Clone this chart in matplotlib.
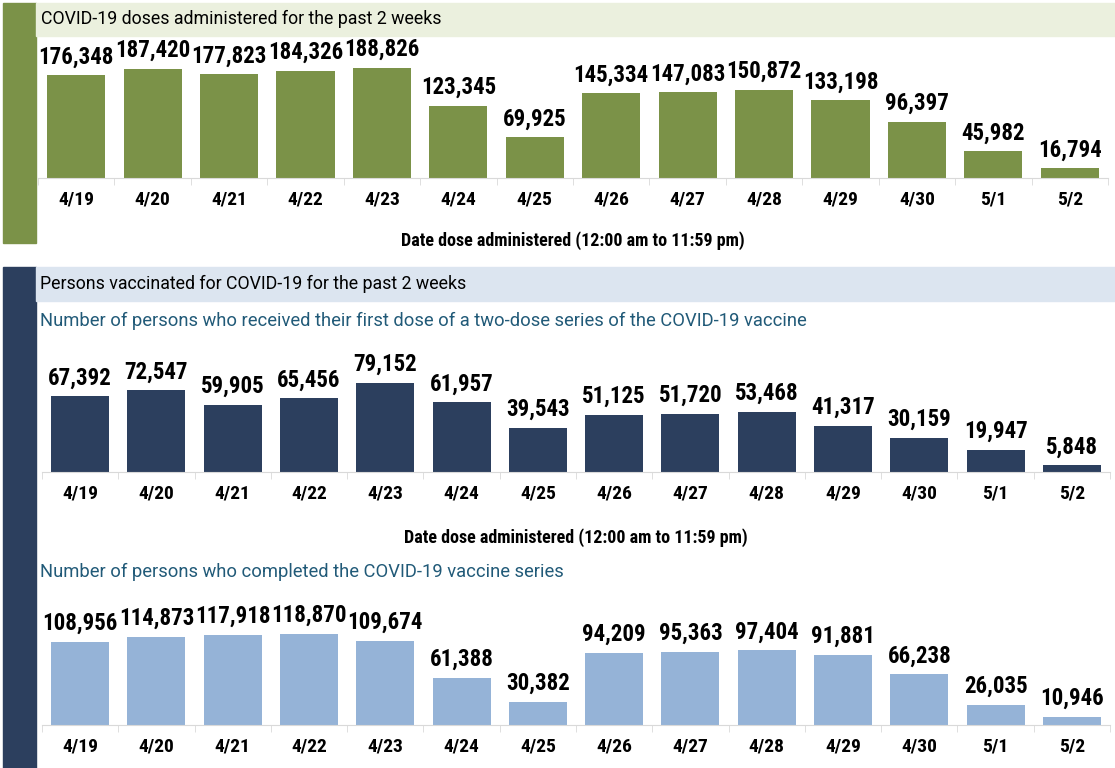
import matplotlib
matplotlib.use("Agg")
import matplotlib.pyplot as plt
from matplotlib.patches import Rectangle

dates = ["4/19", "4/20", "4/21", "4/22", "4/23", "4/24", "4/25",
         "4/26", "4/27", "4/28", "4/29", "4/30", "5/1", "5/2"]
doses = [176348, 187420, 177823, 184326, 188826, 123345, 69925,
         145334, 147083, 150872, 133198, 96397, 45982, 16794]
first_dose = [67392, 72547, 59905, 65456, 79152, 61957, 39543,
              51125, 51720, 53468, 41317, 30159, 19947, 5848]
completed = [108956, 114873, 117918, 118870, 109674, 61388, 30382,
             94209, 95363, 97404, 91881, 66238, 26035, 10946]

W, H = 1115, 768
NARROW = ["Roboto Condensed", "DejaVu Sans"]
REG = ["Roboto", "DejaVu Sans"]

fig = plt.figure(figsize=(W / 100, H / 100), dpi=100)


def fx(x):
    return x / W


def fy(y):
    return 1 - y / H


def rect(x0, y0, x1, y1, color):
    fig.patches.append(Rectangle((fx(x0), fy(y1)), fx(x1 - x0), (y1 - y0) / H,
                                 transform=fig.transFigure, color=color, zorder=0))


def panel(left, right, top, base, values, color, max_px, xlabel=None, labelpad=17):
    ax = fig.add_axes([fx(left), fy(base), fx(right - left), (base - top) / H])
    x = range(len(values))
    ax.bar(x, values, width=0.76, color=color)
    ax.set_xlim(-0.5, len(values) - 0.5)
    ax.set_ylim(0, max(values) * (base - top) / max_px)
    for i, v in enumerate(values):
        ax.annotate(f"{v:,}", (i, v), xytext=(0, 5), textcoords="offset points",
                    ha="center", va="bottom", fontsize=16.5, fontweight="bold",
                    family=NARROW)
    for s in ["top", "left", "right"]:
        ax.spines[s].set_visible(False)
    ax.spines["bottom"].set_color("#d9d9d9")
    ax.set_yticks([])
    ax.set_xticks(list(x))
    ax.set_xticklabels(dates, fontsize=14, fontweight="bold", family=NARROW)
    ax.tick_params(axis="x", which="major", length=0, pad=9)
    ax.set_xticks([i - 0.5 for i in range(len(values) + 1)], minor=True)
    ax.tick_params(axis="x", which="minor", length=5, color="#d9d9d9")
    ax.patch.set_alpha(0)
    if xlabel:
        ax.set_xlabel(xlabel, fontsize=13, fontweight="bold", family=NARROW, labelpad=labelpad)
    return ax


# top section
rect(3, 3, 36, 243, "#7b9248")
rect(36, 3, W, 36, "#ebf0de")
fig.text(fx(41), fy(19), "COVID-19 doses administered for the past 2 weeks",
         fontsize=12.8, family=REG, va="center")
panel(38, 1108, 40, 178, doses, "#7b9248", 110,
      "Date dose administered (12:00 am to 11:59 pm)", labelpad=16.5)

# bottom section
rect(3, 267, 36, H, "#2c3f5e")
rect(36, 267, W, 301, "#dce5f0")
fig.text(fx(40), fy(284), "Persons vaccinated for COVID-19 for the past 2 weeks",
         fontsize=12.8, family=REG, va="center")
fig.text(fx(40), fy(321),
         "Number of persons who received their first dose of a two-dose series of the COVID-19 vaccine",
         fontsize=13.2, family=REG, va="center", color="#215a78")
panel(42, 1110, 340, 472, first_dose, "#2c3f5e", 89,
      "Date dose administered (12:00 am to 11:59 pm)", labelpad=18.5)
fig.text(fx(40), fy(572), "Number of persons who completed the COVID-19 vaccine series",
         fontsize=13.2, family=REG, va="center", color="#215a78")
panel(42, 1110, 595, 725, completed, "#95b3d7", 91)

fig.savefig("out.png", dpi=100)
